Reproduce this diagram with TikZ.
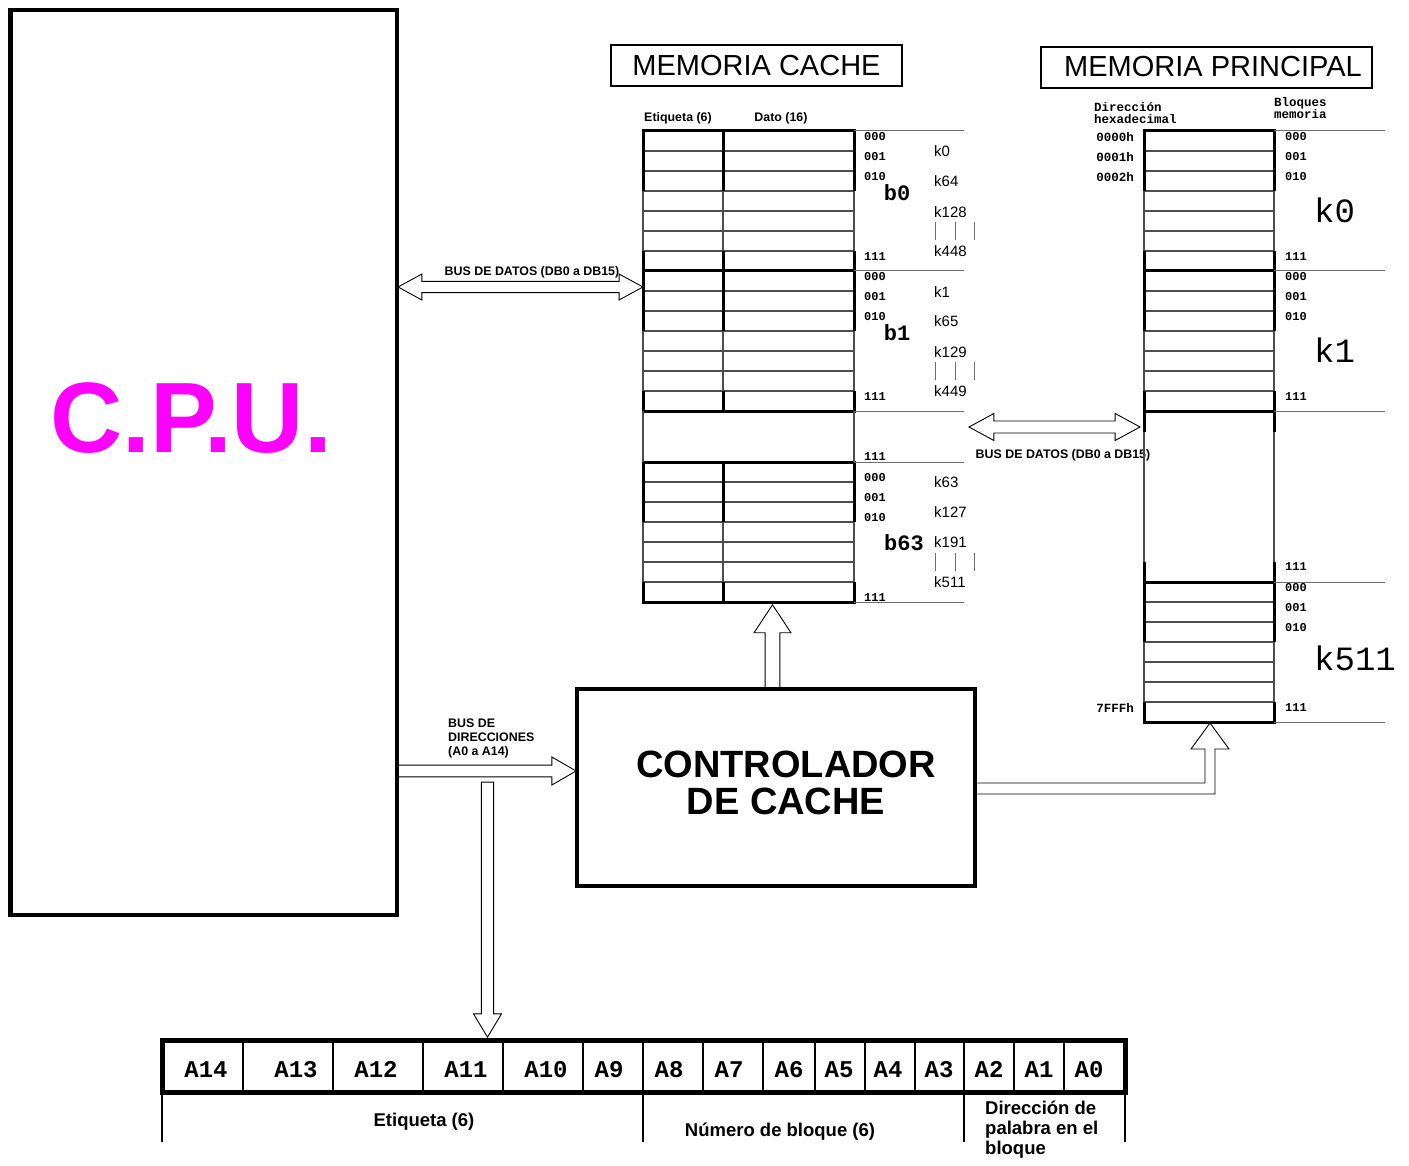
\documentclass[tikz,border=0pt]{standalone}
\usepackage{fontspec}
\setmainfont{Liberation Sans}
\setmonofont{Liberation Mono}
\usepackage{tikz}
\usetikzlibrary{calc,shapes.arrows}
\definecolor{cpu-magenta}{HTML}{FF00FF}
\definecolor{grid-gray}{HTML}{4D4D4D}
\definecolor{guide-gray}{HTML}{6E6E6E}
\newcommand{\fsz}[1]{\fontsize{#1}{#1}\selectfont}

\begin{document}
\begin{tikzpicture}[
  x=1pt, y=-1pt,
  every node/.style={inner sep=0pt},
  heavy/.style={line width=3pt, black},
  light/.style={line width=1.1pt, grid-gray},
  guide/.style={line width=1pt, guide-gray},
  boxframe/.style={draw=black, line width=4.5pt},
  titlebox/.style={draw=black, line width=2.5pt, minimum height=41pt},
  titletxt/.style={font=\fsz{29}},
  hollow/.style={draw=black, line width=0.9pt, fill=white},
  bitlbl/.style={font=\ttfamily\bfseries\fsz{12}, anchor=west},
  hexlbl/.style={font=\ttfamily\bfseries\fsz{12.5}, anchor=east},
  klbl/.style={font=\fsz{15}, anchor=west},
  bigk/.style={font=\ttfamily\fsz{34}, anchor=west},
  blklbl/.style={font=\ttfamily\bfseries\fsz{22}},
  buslbl/.style={font=\bfseries\fsz{12.4}},
  regbit/.style={font=\ttfamily\bfseries\fsz{24}, anchor=base},
  fieldlbl/.style={font=\bfseries\fsz{18.5}}
]
\useasboundingbox (0,0) rectangle (1409,1166);

% buses
\node[double arrow, hollow, inner ysep=5pt, minimum height=245pt, minimum width=26pt, double arrow tip angle=57] (bus-data-l) at (520.5,287) {};
\node[buslbl] (bus-data-l-txt) at (532,272) {BUS DE DATOS (DB0 a DB15)};
\node[double arrow, hollow, inner ysep=5.3pt, minimum height=171pt, minimum width=27pt, double arrow tip angle=57] (bus-data-r) at (1054.5,427) {};
\node[buslbl] (bus-data-r-txt) at (1063,455) {BUS DE DATOS (DB0 a DB15)};
\node[single arrow, hollow, inner ysep=4.75pt, minimum height=179pt, minimum width=28pt, single arrow tip angle=60, anchor=tip] (bus-addr) at (577,771) {};
\node[buslbl, anchor=west, align=left, font=\bfseries\fontsize{12.4}{14}\selectfont] (bus-addr-txt) at (448,738) {BUS DE\\DIRECCIONES\\(A0 a A14)};
\node[single arrow, hollow, rotate=-90, inner ysep=5pt, minimum height=255pt, minimum width=28pt, single arrow tip angle=62, anchor=tip] (addr-down) at (487.5,1038) {};
\node[single arrow, hollow, rotate=90, inner ysep=4.25pt, minimum height=85pt, minimum width=37pt, single arrow tip angle=67, anchor=tip] (ctrl-up) at (772.5,604) {};

% CPU
\node[boxframe, minimum width=386.5pt, minimum height=905pt] (cpu) at (203.75,462.5) {};
\node[font=\bfseries\fsz{100}, text=cpu-magenta] (cpu-txt) at (191,418) {C.P.U.};

% controlador
\node[boxframe, minimum width=398pt, minimum height=197pt] (ctrl) at (776,787.5) {};
\node[font=\bfseries\fontsize{38}{37}\selectfont, align=center] (ctrl-txt) at (786,783) {CONTROLADOR\\DE CACHE};
\coordinate (mm-port) at (1210,723);
\draw[hollow, fill=none] ($(ctrl.east)+(0,-4.5)$) -| (1205,749) -- (1191,749) -- (mm-port) -- (1229,749) -- (1215,749) |- ($(ctrl.east)+(0,6.5)$);

% memoria cache
\node[titlebox, titletxt, minimum width=291pt] (cache-title) at (756.5,65.5) {MEMORIA CACHE};
\node[buslbl] (tag-head) at (678,118) {Etiqueta (6)};
\node[buslbl] (data-head) at (781,118) {Dato (16)};
\foreach \by in {131,271,462} {
  \foreach \r in {1,...,6}
    \draw[light] (643,\by+20*\r) -- (854,\by+20*\r);
  \draw[light] (643,\by+60) -- (643,\by+120) (723,\by+60) -- (723,\by+120) (854,\by+60) -- (854,\by+120);
  \draw[heavy] (643,\by+60) -- (643,\by) -- (854,\by) -- (854,\by+60) (723,\by) -- (723,\by+60);
  \draw[heavy] (643,\by+120) -- (643,\by+140) -- (854,\by+140) -- (854,\by+120) (723,\by+120) -- (723,\by+140);
}
\draw[light] (643,411) -- (643,462) (854,411) -- (854,462);
\foreach \y in {131,271,411,462,602}
  \draw[guide] (854,\y) -- (964,\y);
\foreach \y/\b [count=\i] in {137/000,157/001,177/010,257/111,277/000,297/001,317/010,397/111,457/111,478/000,498/001,518/010,598/111}
  \node[bitlbl] (cbit-\i) at (864,\y) {\b};
\node[blklbl] (b0) at (897,193) {b0};
\node[blklbl] (b1) at (897,333) {b1};
\node[blklbl] (b63) at (904,543) {b63};
\foreach \y/\k in {151/k0,181/k64,212/k128,251/k448,292/k1,321/k65,352/k129,391/k449,482/k63,512/k127,542/k191,582/k511}
  \node[klbl] (ck-\k) at (934,\y) {\k};
\foreach \y in {231,371,562}
  \foreach \x in {935,955,974}
    \draw[guide] (\x,\y-9) -- (\x,\y+9);

% memoria principal
\node[titlebox, minimum width=331pt] (main-title) at (1206.5,67.5) {};
\node[titletxt, anchor=west] (main-title-txt) at (1064,67) {MEMORIA PRINCIPAL};
\node[anchor=west, align=left, font=\ttfamily\bfseries\fontsize{12.5}{12}\selectfont] (hex-head) at (1094,113) {Dirección\\hexadecimal};
\node[anchor=west, font=\ttfamily\bfseries\fsz{12.5}] (blq-head) at (1274,103) {Bloques};
\node[anchor=west, font=\ttfamily\bfseries\fsz{12.5}] (mem-head) at (1274,114) {memoria};
\foreach \by in {131,271,582} {
  \foreach \r in {1,...,6}
    \draw[light] (1144,\by+20*\r) -- (1274,\by+20*\r);
  \draw[light] (1144,\by+60) -- (1144,\by+120) (1274,\by+60) -- (1274,\by+120);
  \draw[heavy] (1144,\by+60) -- (1144,\by) -- (1274,\by) -- (1274,\by+60);
  \draw[heavy] (1144,\by+120) -- (1144,\by+140) -- (1274,\by+140) -- (1274,\by+120);
}
\draw[heavy] (1144,411) -- (1144,432) (1274,411) -- (1274,432) (1144,562) -- (1144,582) (1274,562) -- (1274,582);
\draw[light] (1144,432) -- (1144,562) (1274,432) -- (1274,562);
\foreach \y in {131,271,411,582,722}
  \draw[guide] (1274,\y) -- (1385,\y);
\foreach \y/\b [count=\i] in {137/000,157/001,177/010,257/111,277/000,297/001,317/010,397/111,567/111,588/000,608/001,628/010,708/111}
  \node[bitlbl] (mbit-\i) at (1285,\y) {\b};
\foreach \y/\h [count=\i] in {137/0000h,157/0001h,177/0002h,708/7FFFh}
  \node[hexlbl] (hex-\i) at (1134,\y) {\h};
\node[bigk] (k0) at (1314,210) {k0};
\node[bigk] (k1) at (1314,350) {k1};
\node[bigk] (k511) at (1314,658) {k511};

% registro de direcciones
\draw[line width=5pt] (162,1040) rectangle (1125,1092);
\foreach \x in {243,333,423,503,583,643,703,763,815,865,915,964,1014,1064}
  \draw[line width=2pt] (\x,1040) -- (\x,1092);
\foreach \x/\a in {206/A14,296/A13,376/A12,466/A11,546/A10,609/A9,669/A8,729/A7,789/A6,839/A5,888/A4,939/A3,989/A2,1039/A1,1089/A0}
  \node[regbit] (reg-\a) at (\x,1077) {\a};
\foreach \x in {162,643,964,1125}
  \draw[line width=2.5pt] (\x,1092) -- (\x,1142);
\node[fieldlbl] (f-tag) at (424,1122) {Etiqueta (6)};
\node[fieldlbl] (f-block) at (780,1132) {Número de bloque (6)};
\node[anchor=west, align=left, font=\bfseries\fontsize{18.5}{20}\selectfont] (f-word) at (985,1130) {Dirección de\\palabra en el\\bloque};
\end{tikzpicture}
\end{document}
